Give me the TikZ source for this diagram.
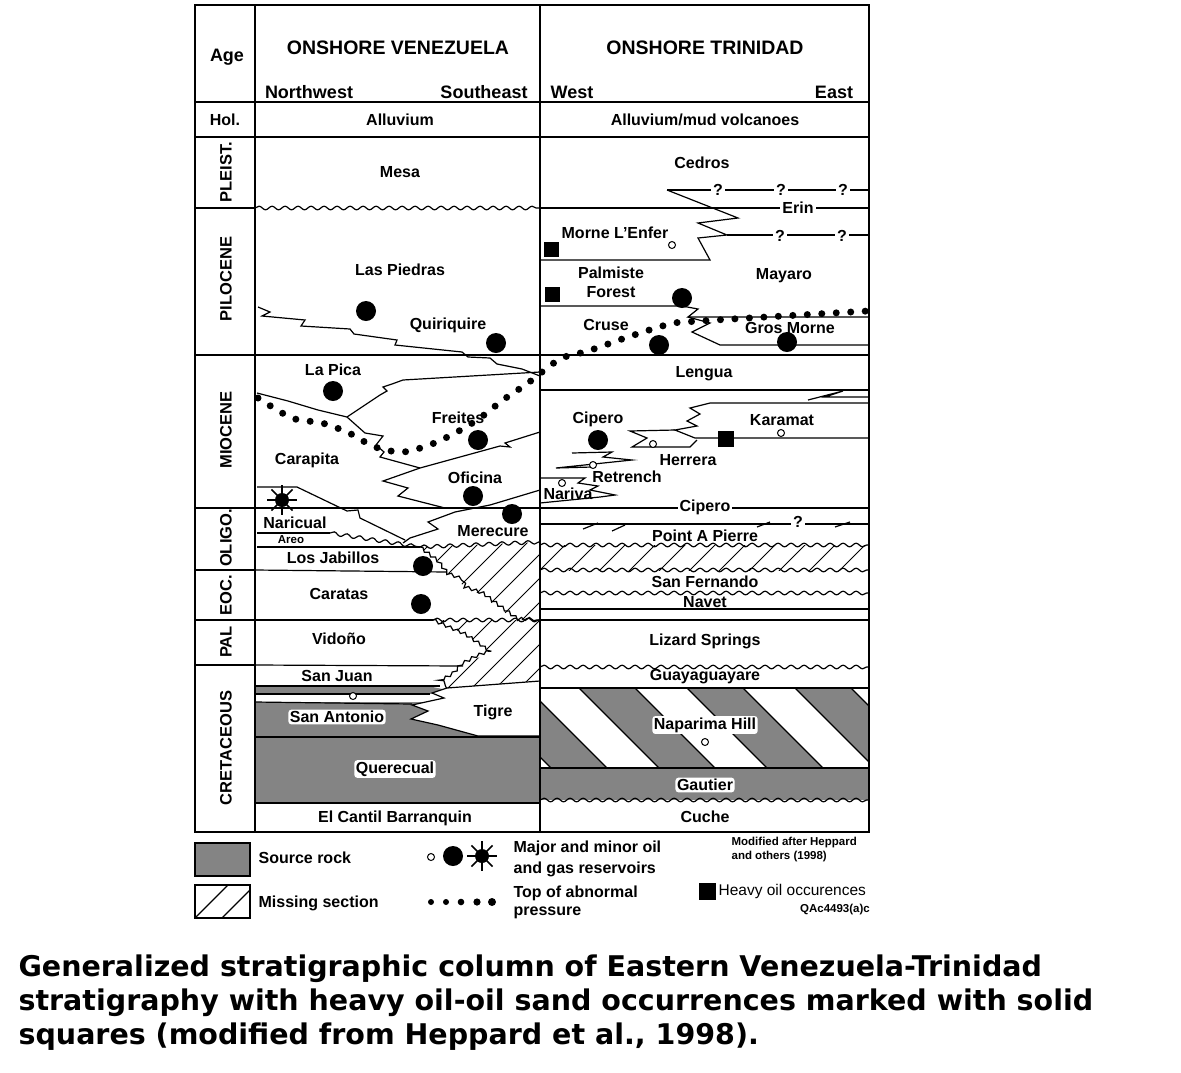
\documentclass[tikz,border=0pt]{standalone}
\usepackage{fontspec}
\setmainfont{Liberation Sans}
\newfontfamily\capfont{DejaVu Sans}
\usetikzlibrary{positioning, decorations.pathmorphing}
\definecolor{srcgray}{RGB}{132,132,132}

\begin{document}
\begin{tikzpicture}[x=1pt, y=-1pt, line width=1.2pt,
    lbl/.style={font=\fontsize{16}{16}\selectfont\bfseries, inner sep=0pt},
    hdr/.style={font=\fontsize{18}{18}\selectfont\bfseries, inner sep=0pt},
    title/.style={font=\fontsize{19.5}{20}\selectfont\bfseries, inner sep=0pt},
    era/.style={font=\fontsize{16.5}{17}\selectfont\bfseries, inner sep=0pt, rotate=90},
    tiny/.style={font=\fontsize{11.5}{12}\selectfont\bfseries, inner sep=0pt},
    halo/.style={lbl, fill=white, rounded corners=3pt, inner sep=1.5pt},
    qm/.style={lbl, fill=white, inner sep=2pt},
    captext/.style={font=\capfont\fontsize{28.5}{28}\selectfont\bfseries, anchor=base west, inner sep=0pt},
    wave/.style={decorate, decoration={snake, segment length=13pt, amplitude=1.8pt}},
    rough/.style={decorate, decoration={snake, segment length=8pt, amplitude=1.5pt}},
    press/.style={line width=7pt, line cap=round, dash pattern=on 0pt off 14.5pt},
    gas/.style={draw=black, fill=white, line width=1pt},
  ]
\fill[white] (0,0) rectangle (1181,1072);
\useasboundingbox (0,0) rectangle (1181,1072);

% source rock
\fill[srcgray] (255,686) -- (428,686) -- (447,690) -- (430,694) -- (255,694) -- cycle;
\fill[srcgray] (255,702) rectangle (500,736);
\fill[srcgray] (255,737) rectangle (540,803);
\begin{scope}
  \clip (540,688) rectangle (869,768);
  \foreach \s in {363,471,...,795}
    \filldraw[fill=srcgray] (\s,688) -- ++(56,0) -- ++(82,82) -- ++(-56,0) -- cycle;
\end{scope}
\fill[srcgray] (540,768) rectangle (869,800);
\filldraw[fill=white] (540,681) -- (447,688) -- (432,693) -- (444,698) -- (412,705) -- (428,711)
  -- (411,719) -- (438,725) -- (478,736) -- (540,736);

% missing section
\begin{scope}
  \clip (420,547) -- (540,542) -- (540,620) -- (515,620) -- (493,604) -- (480,594) -- (463,588)
    -- (460,578) -- (447,573) -- (437,560) -- cycle;
  \foreach \i in {300,324,...,540} \draw[line width=1pt] (\i,650) -- ++(130,-130);
\end{scope}
\begin{scope}
  \clip (433,620) -- (540,620) -- (540,681) -- (447,688) -- (440,684) -- (455,675) -- (463,666)
    -- (478,658) -- (490,653) -- (478,643) -- (463,633) -- cycle;
  \foreach \i in {340,364,...,540} \draw[line width=1pt] (\i,700) -- ++(130,-130);
\end{scope}
\begin{scope}
  \clip (540,545) rectangle (869,570);
  \foreach \i in {505,535,...,875} \draw[line width=1pt] (\i,575) -- ++(35,-35);
\end{scope}
\draw[wave] (420,547) -- (540,542);
\draw[rough] (420,547) -- (437,560) -- (447,573) -- (460,578) -- (463,588) -- (480,594) -- (493,604)
  -- (515,620) -- (540,620);
\draw[wave] (433,620) -- (540,620);
\draw[rough] (433,620) -- (463,633) -- (478,643) -- (490,653) -- (478,658) -- (463,666) -- (455,675)
  -- (440,684) -- (447,688);

% venezuela
\draw[wave] (255,208) -- (540,208);
\draw (258,307) -- (270,312) -- (262,316) -- (305,320) -- (301,326) -- (350,329) -- (354,334)
  -- (397,340) -- (395,345) -- (462,352) -- (468,357) -- (490,358) -- (497,364) -- (522,369) -- (540,376);
\draw (257,393) -- (288,401) -- (318,410) -- (347,417) -- (380,395) -- (387,391) -- (383,387)
  -- (392,384) -- (403,380) -- (540,372);
\draw (347,417) -- (365,433) -- (383,436) -- (376,445) -- (384,452) -- (380,457) -- (420,468)
  -- (500,446) -- (510,447) -- (505,443) -- (540,432);
\draw (420,468) -- (383,481) -- (408,488) -- (398,496) -- (445,508);
\draw (540,490) -- (490,505) -- (455,512) -- (428,522) -- (438,529) -- (410,538) -- (403,543);
\draw (257,487) -- (297,487) -- (347,511) -- (358,510) -- (360,518) -- (405,540);
\draw (257,533) -- (330,533);
\draw[wave] (330,533) -- (420,547);
\draw (257,547) -- (420,547);
\draw (255,570) -- (447,572);
\draw (255,620) -- (433,620);
\draw (255,665) -- (463,666);
\draw (255,686) -- (440,686);
\draw (255,694) -- (430,694);
\draw (255,702) -- (412,704);
\draw[line width=2pt] (255,737) -- (540,737);
\draw (255,803) -- (540,803);

% trinidad
\draw (667,190) -- (869,190);
\draw (667,190) -- (738,218) -- (698,223) -- (727,235) -- (698,238) -- (710,260) -- (540,260);
\draw (540,208) -- (869,208);
\draw (727,235) -- (869,235);
\draw (540,306) -- (682,306) -- (698,309) -- (688,317) -- (869,317);
\draw (688,317) -- (710,323) -- (692,332) -- (720,345) -- (869,345);
\draw (540,390) -- (869,390);
\draw (808,400) -- (843,391) -- (825,397) -- (869,397);
\draw (869,403) -- (710,403) -- (690,408) -- (700,414) -- (687,421) -- (697,426) -- (675,430)
  -- (695,438) -- (869,438);
\draw (675,430) -- (630,431) -- (647,438) -- (632,447) -- (690,447) -- (697,440);
\draw (572,453) -- (612,452) -- (603,457) -- (632,460) -- (556,468) -- (592,467);
\draw (540,478) -- (585,478) -- (578,483) -- (598,486) -- (590,490) -- (615,495) -- (600,497) -- (540,503);
\draw (540,524) -- (869,524);
\draw (583,529) -- (598,523);
\draw (612,531) -- (625,525);
\draw (757,527) -- (770,522);
\draw (835,527) -- (850,522);
\draw[wave] (540,545) -- (869,545);
\draw[wave] (540,570) -- (869,570);
\draw[wave] (540,593) -- (869,593);
\draw (540,609) -- (869,609);
\draw (540,620) -- (869,620);
\draw[wave] (540,667) -- (869,667);
\draw[line width=1.6pt] (540,688) -- (869,688);
\draw[line width=1.6pt] (540,768) -- (869,768);
\draw[wave] (540,800) -- (869,800);

% frame
\draw[line width=1.6pt] (195,5) rectangle (869,832);
\draw[line width=1.4pt] (255,5) -- (255,832);
\draw[line width=1.4pt] (540,5) -- (540,832);
\foreach \yy in {102,137,355,508} \draw[line width=1.4pt] (195,\yy) -- (869,\yy);
\foreach \yy in {208,570,620,665} \draw[line width=1.4pt] (195,\yy) -- (255,\yy);

% top of abnormal pressure
\draw[press] plot[smooth] coordinates {(258,398) (292,418) (322,423) (349,433) (375,447) (403,452)
  (432,444) (457,432) (480,418) (503,400) (528,383) (560,359) (588,351) (628,337) (670,324)
  (700,321) (868,311)};

% reservoirs
\foreach \p in {(366,311),(496,343),(333,391),(478,440),(473,496),(512,514),(423,566),(421,604),
  (682,298),(659,345),(787,342),(598,440)}
  \fill \p circle (10);
\foreach \p in {(353,696),(672,245),(653,444),(781,433),(593,465),(562,483),(705,742)}
  \draw[gas] \p circle (3.5);
\fill (282,500) circle (7);
\foreach \a in {0,45,...,315} \draw[line width=1.6pt] (282,500) -- ++(\a:15);
\fill (544,242) rectangle (559,257);
\fill (545,287) rectangle (560,302);
\fill (718,431) rectangle (734,447);

% header
\node[hdr] (age) at (227,57) {Age};
\node[title] (venez) at (398,48) {ONSHORE VENEZUELA};
\node[hdr] (nw) at (309,92) {Northwest};
\node[hdr] (se) at (484,92) {Southeast};
\node[title] (trin) at (705,48) {ONSHORE TRINIDAD};
\node[hdr] (west) at (572,92) {West};
\node[hdr] (east) at (834,92) {East};
\node[lbl] (hol) at (225,120) {Hol.};
\node[lbl] (allv) at (400,120) {Alluvium};
\node[lbl] (allt) at (705,120) {Alluvium/mud volcanoes};

% ages
\node[era] (pleist) at (226,172) {PLEIST.};
\node[era] (plio) at (226,279) {PILOCENE};
\node[era] (mio) at (226,430) {MIOCENE};
\node[era] (oligo) at (226,538) {OLIGO.};
\node[era] (eoc) at (226,595) {EOC.};
\node[era] (pal) at (226,642) {PAL};
\node[era] (cret) at (226,748) {CRETACEOUS};

% venezuela units
\node[lbl] (mesa) at (400,172) {Mesa};
\node[lbl] (piedras) at (400,270) {Las Piedras};
\node[lbl] (quiri) at (448,325) {Quiriquire};
\node[lbl] (pica) at (333,370) {La Pica};
\node[lbl] (freites) at (458,418) {Freites};
\node[lbl] (carapita) at (307,460) {Carapita};
\node[lbl] (oficina) at (475,478) {Oficina};
\node[lbl] (naricual) at (295,523) {Naricual};
\node[tiny] (areo) at (291,540) {Areo};
\node[lbl] (merecure) at (493,531) {Merecure};
\node[lbl] (jabillos) at (333,558) {Los Jabillos};
\node[lbl] (caratas) at (339,594) {Caratas};
\node[lbl] (vidono) at (339,639) {Vidoño};
\node[lbl] (sanjuan) at (337,676) {San Juan};
\node[halo] (antonio) at (337,717) {San Antonio};
\node[lbl] (tigre) at (493,712) {Tigre};
\node[halo] (querecual) at (395,769) {Querecual};
\node[lbl] (cantil) at (395,818) {El Cantil Barranquin};

% trinidad units
\node[lbl] (cedros) at (702,163) {Cedros};
\node[qm] (q1) at (718,190) {?};
\node[qm] (q2) at (781,190) {?};
\node[qm] (q3) at (843,190) {?};
\node[qm] (erin) at (798,208) {Erin};
\node[qm] (q4) at (780,236) {?};
\node[qm] (q5) at (842,236) {?};
\node[lbl] (morne) at (615,233) {Morne L'Enfer};
\node[lbl] (palm) at (611,273) {Palmiste};
\node[lbl, below=6pt of palm] (forest) {Forest};
\node[lbl] (mayaro) at (784,276) {Mayaro};
\node[lbl] (cruse) at (606,325) {Cruse};
\node[lbl] (gros) at (790,328) {Gros Morne};
\node[lbl] (lengua) at (704,374) {Lengua};
\node[lbl] (cipero) at (598,419) {Cipero};
\node[lbl] (karamat) at (782,420) {Karamat};
\node[lbl] (herrera) at (688,460) {Herrera};
\node[lbl] (retrench) at (627,477) {Retrench};
\node[lbl] (nariva) at (568,494) {Nariva};
\node[qm] (cipero2) at (705,507) {Cipero};
\node[qm] (q6) at (798,522) {?};
\node[lbl] (pierre) at (705,536) {Point A Pierre};
\node[lbl] (fernando) at (705,582) {San Fernando};
\node[lbl] (navet) at (705,602) {Navet};
\node[lbl] (lizard) at (705,641) {Lizard Springs};
\node[lbl] (guaya) at (705,677) {Guayaguayare};
\node[halo] (naparima) at (705,725) {Naparima Hill};
\node[halo] (gautier) at (705,785) {Gautier};
\node[lbl] (cuche) at (705,817) {Cuche};

% legend
\filldraw[fill=srcgray, line width=1.5pt] (195,843) rectangle (250,876);
\begin{scope}
  \clip (195,885) rectangle (250,918);
  \foreach \i in {195,222,249} \draw (\i,918) -- ++(33,-33);
\end{scope}
\draw[line width=1.5pt] (195,885) rectangle (250,918);
\node[lbl, anchor=west] (srclbl) at (258,858) {Source rock};
\node[lbl, anchor=west] (misslbl) at (258,903) {Missing section};
\draw[gas] (431,857) circle (3.5);
\fill (453,856) circle (10);
\fill (482,856) circle (7);
\foreach \a in {0,45,...,315} \draw[line width=1.6pt] (482,856) -- ++(\a:15);
\node[lbl, anchor=west] (oillbl) at (513,848) {Major and minor oil};
\node[lbl, anchor=west] (gaslbl) at (513,869) {and gas reservoirs};
\foreach \x/\r in {431/3,446/3,461/3.3,477/3.6,492/4} \fill (\x,902) circle (\r);
\node[lbl, anchor=west] (toplbl) at (513,893) {Top of abnormal};
\node[lbl, anchor=west] (preslbl) at (513,913) {pressure};
\node[tiny, anchor=west] (mod1) at (731,843) {Modified after Heppard};
\node[tiny, anchor=west] (mod2) at (731,857) {and others (1998)};
\fill (699,883) rectangle (716,900);
\node[anchor=west, inner sep=0pt, font=\fontsize{15.5}{16}\selectfont] (heavy) at (718,891) {Heavy oil occurences};
\node[tiny] (qac) at (835,910) {QAc4493(a)c};

% caption
\node[captext] (cap1) at (18,976) {Generalized stratigraphic column of Eastern Venezuela-Trinidad};
\node[captext] (cap2) at (18,1010) {stratigraphy with heavy oil-oil sand occurrences marked with solid};
\node[captext] (cap3) at (18,1044) {squares (modified from Heppard et al., 1998).};
\end{tikzpicture}
\end{document}
